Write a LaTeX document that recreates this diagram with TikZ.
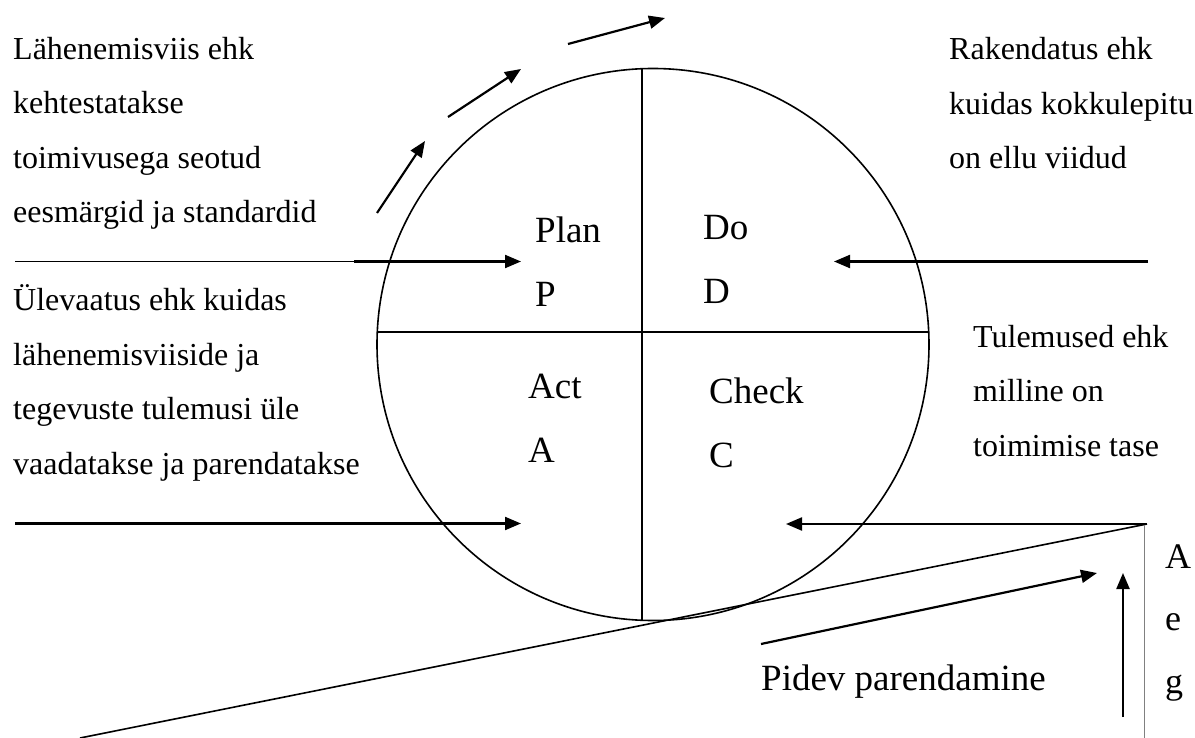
\documentclass[tikz,border=0pt]{standalone}
\usepackage{fontspec}
\setmainfont{Liberation Serif}
\usetikzlibrary{arrows.meta}
\begin{document}
\begin{tikzpicture}[x=1pt,y=-1pt,
  txt/.style={anchor=base west, inner sep=0pt, align=left, font=\fontsize{32}{54.5}\selectfont},
  lbl/.style={anchor=base west, inner sep=0pt, align=left, font=\fontsize{37}{64}\selectfont},
  arr/.style={line width=2.2pt, -{Triangle[length=16pt,width=13pt]}},
  shape line/.style={line width=1.6pt},
  thinline/.style={line width=1pt}]
\useasboundingbox (0,0) rectangle (1195,738);
% circle and quadrants
\node[circle, draw, shape line, minimum size=552pt, inner sep=0pt] (cyc) at (653,344.5) {};
\coordinate (vtop) at (642,68.7);
\coordinate (vbot) at (642,620.3);
\coordinate (hl) at (377.3,332);
\coordinate (hr) at (928.7,332);
\draw[shape line] (vtop) -- (vbot);
\draw[shape line] (hl) -- (hr);
% quadrant labels (anchored at the baseline of the last line)
\node[lbl] (plan) at (535,306) {Plan\\P};
\node[lbl] (do) at (703,304) {Do\\D};
\node[lbl] (act) at (528,462) {Act\\A};
\node[lbl] (check) at (709,467) {Check\\C};
% side texts
\node[txt] (lah) at (13,223) {Lähenemisviis ehk\\kehtestatakse\\toimivusega seotud\\eesmärgid ja standardid};
\node[txt] (rak) at (949,169) {Rakendatus ehk\\kuidas kokkulepitu\\on ellu viidud};
\node[txt] (ule) at (13,474) {Ülevaatus ehk kuidas\\lähenemisviiside ja\\tegevuste tulemusi üle\\vaadatakse ja parendatakse};
\node[txt] (tul) at (973,456) {Tulemused ehk\\milline on\\toimimise tase};
\node[lbl] (pidev) at (761,690) {Pidev parendamine};
\node[lbl, font=\fontsize{36}{62.5}\selectfont] (aeg) at (1165,693) {A\\e\\g};
% top curved sequence of arrows
\coordinate (t1a) at (377,213); \coordinate (t1b) at (425,141);
\coordinate (t2a) at (448,117); \coordinate (t2b) at (521,69);
\coordinate (t3a) at (568,44);  \coordinate (t3b) at (665,18);
\draw[arr] (t1a) -- (t1b);
\draw[arr] (t2a) -- (t2b);
\draw[arr] (t3a) -- (t3b);
% plan arrow
\coordinate (pl0) at (15,261.5);
\coordinate (pl1) at (354,261.5);
\coordinate (pl2) at (521,261.5);
\draw[thinline] (pl0) -- (pl1);
\draw[arr] (pl1) -- (pl2);
% do arrow
\coordinate (do0) at (1148,261.5);
\coordinate (do1) at (834,261.5);
\draw[arr] (do0) -- (do1);
% act arrow
\coordinate (ac0) at (15,523.5);
\coordinate (ac1) at (521,523.5);
\draw[arr] (ac0) -- (ac1);
% check arrow
\coordinate (corner) at (1147,524);
\coordinate (ch1) at (786,524);
\draw[arr] (corner) -- (ch1);
% slope line
\coordinate (slo) at (80,738);
\draw[shape line] (slo) -- (corner);
% gray axis
\coordinate (axt) at (1144,525);
\coordinate (axb) at (1144,738);
\draw[line width=1pt, gray] (axt) -- (axb);
% continuous improvement arrow
\coordinate (pv0) at (761,644);
\coordinate (pv1) at (1097,573);
\draw[arr] (pv0) -- (pv1);
% time arrow
\coordinate (tm0) at (1123,717);
\coordinate (tm1) at (1123,573);
\draw[arr] (tm0) -- (tm1);
\end{tikzpicture}
\end{document}
